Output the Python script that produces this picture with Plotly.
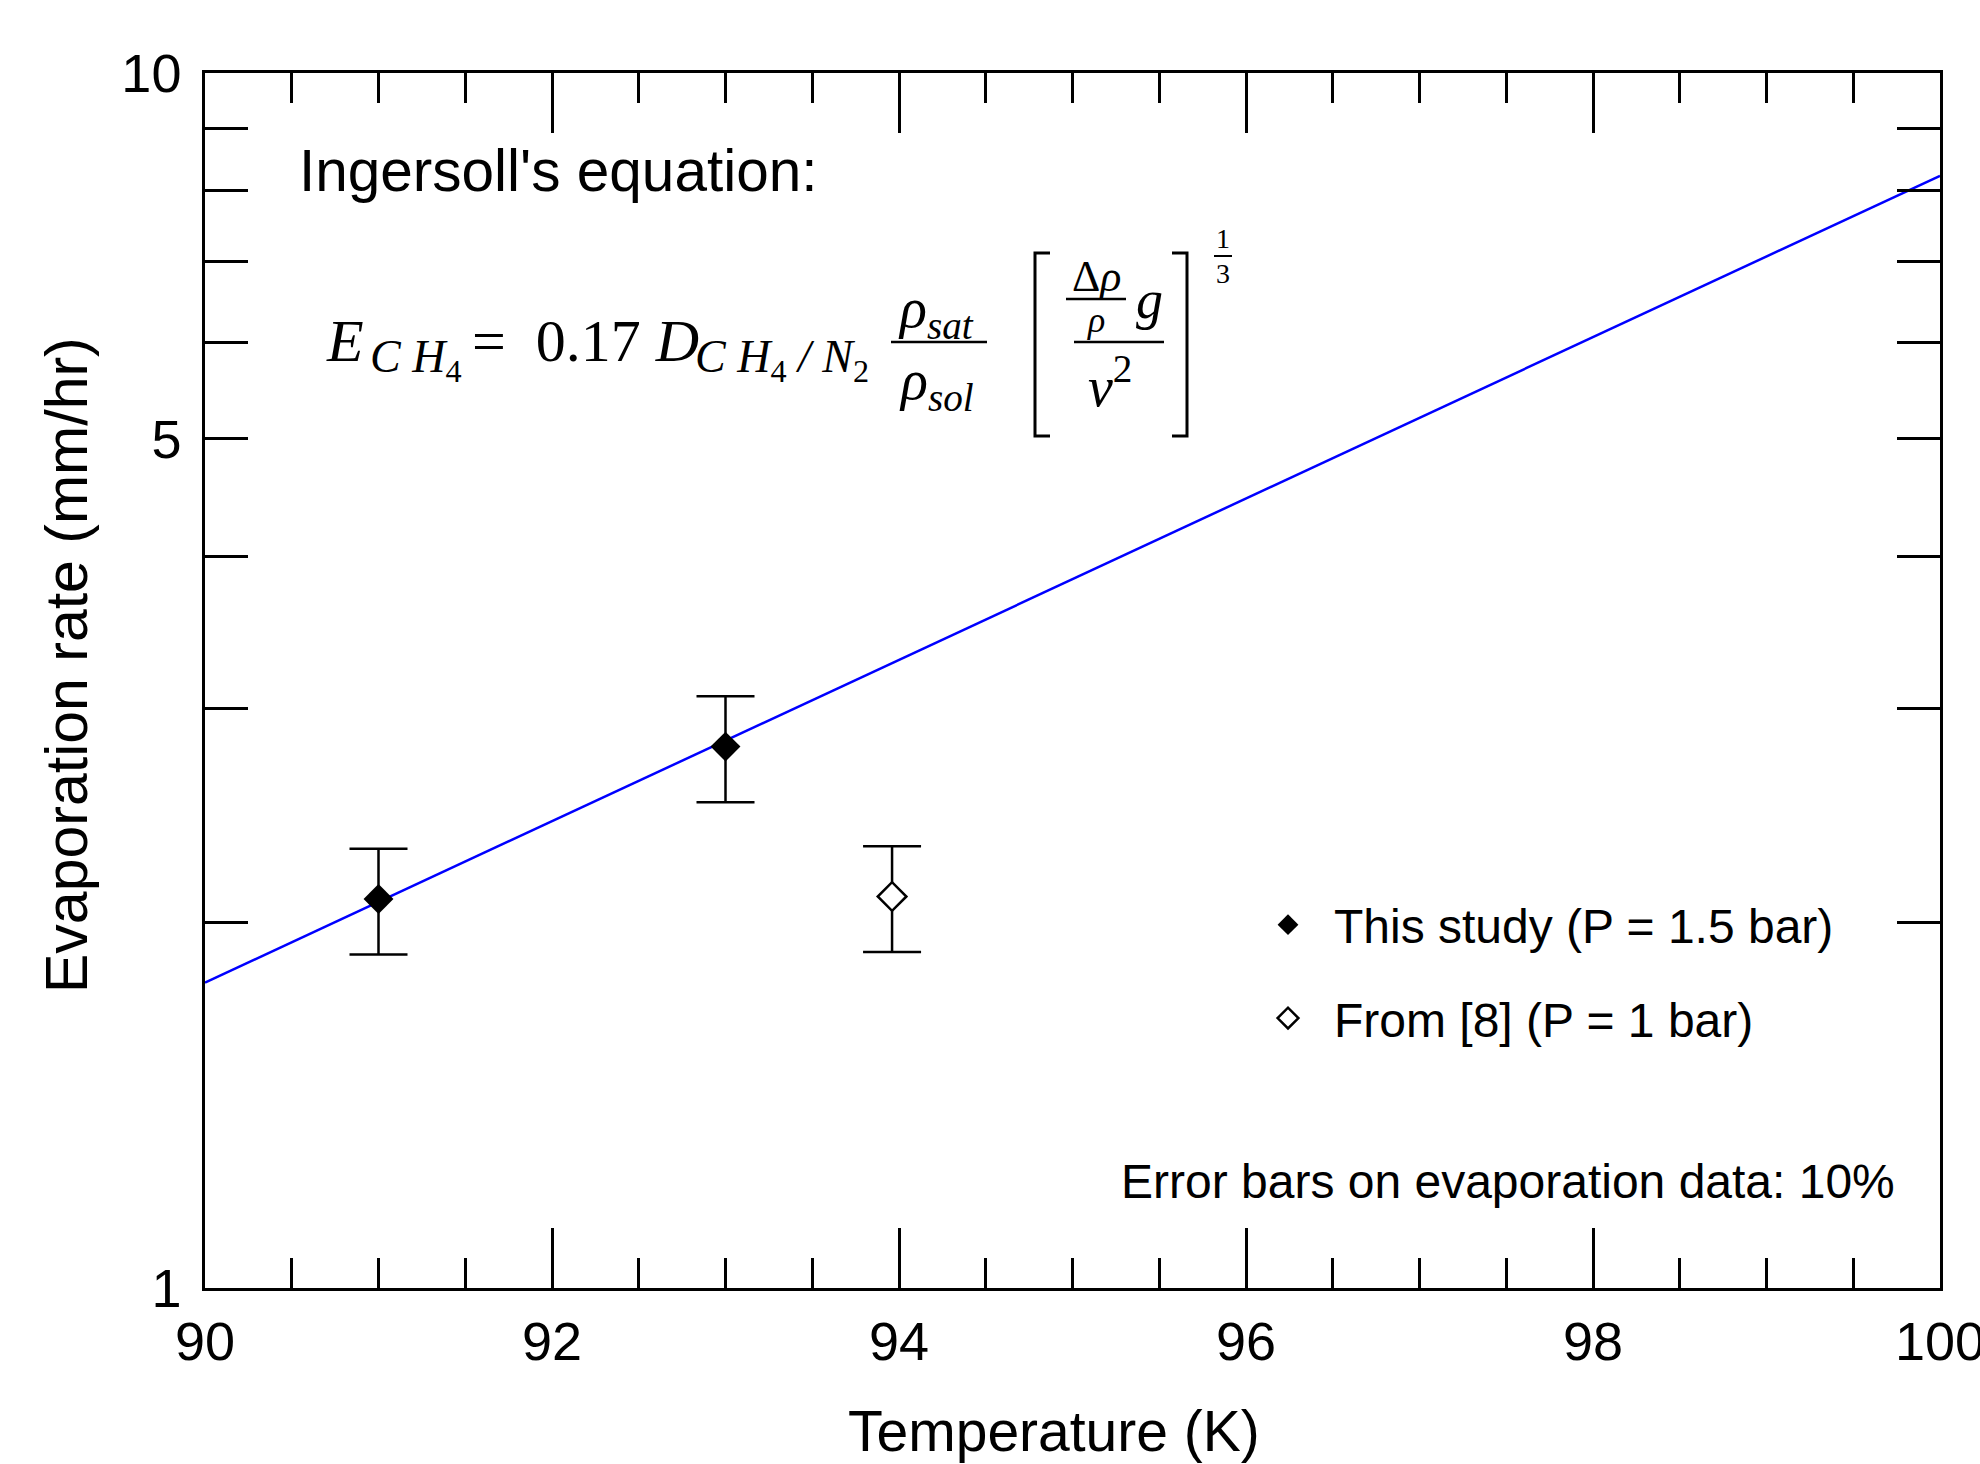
import plotly.graph_objects as go

# ---- data ----
temp_study = [91.0, 93.0]
rate_study = [2.09, 2.79]
temp_ref8 = [93.96]
rate_ref8 = [2.10]
error_pct = 10

temp_model = [90.0, 100.0]
rate_model = [1.784, 8.23]

x_tick_vals = [90, 92, 94, 96, 98, 100]
y_tick_vals = [1, 2, 3, 4, 5, 6, 7, 8, 9, 10]
y_tick_text = ["1", "", "", "", "5", "", "", "", "", "10"]

W, H = 1980, 1464
L, R, T, B = 205, 1940, 73, 1288


def xp(px):
    return (px - L) / (R - L)


def yp(py):
    return (B - py) / (B - T)


SANS = "Liberation Sans, Arial, sans-serif"
SERIF = "Liberation Serif, Times New Roman, serif"

fig = go.Figure()

fig.add_trace(go.Scatter(
    x=temp_model, y=rate_model, mode="lines",
    line=dict(color="#0000ff", width=2.5), showlegend=False, hoverinfo="skip"))

fig.add_trace(go.Scatter(
    x=temp_study, y=rate_study, mode="markers", name="This study (P = 1.5 bar)",
    legendgroup="a",
    marker=dict(symbol="diamond", size=23, color="black", line=dict(color="black", width=0)),
    error_y=dict(type="percent", value=error_pct, color="black", thickness=2.5, width=29)))

fig.add_trace(go.Scatter(
    x=temp_ref8, y=rate_ref8, mode="markers", name="From [8] (P = 1 bar)",
    legendgroup="b",
    marker=dict(symbol="diamond", size=22, color="white", line=dict(color="black", width=2.5)),
    error_y=dict(type="percent", value=error_pct, color="black", thickness=2.5, width=29)))

ann = []


def txt(text, x, y, size, xanchor="center", yanchor="middle", family=SERIF, angle=0):
    ann.append(dict(text=text, x=xp(x), y=yp(y), xref="paper", yref="paper",
                    xanchor=xanchor, yanchor=yanchor, showarrow=False, textangle=angle,
                    font=dict(family=family, size=size, color="black")))


# axis titles
txt("Temperature (K)", 1054, 1431, 57, family=SANS)
txt("Evaporation rate (mm/hr)", 67, 665, 59, family=SANS, angle=-90)

txt("Ingersoll's equation:", 297, 170, 58.5, xanchor="left", family=SANS)
txt("Error bars on evaporation data: 10%", 1897, 1181, 48, xanchor="right", family=SANS)

# equation pieces
txt("<i>E</i>", 324, 341, 60, xanchor="left")
txt("<i>C H</i><sub>4</sub>", 368, 360, 46, xanchor="left")
txt("=  0.17 <i>D</i>", 470, 341, 60, xanchor="left")
txt("<i>C H</i><sub>4</sub><i> / N</i><sub>2</sub>", 693, 360, 46, xanchor="left")
txt("<i>ρ</i><sub><i>sat</i></sub>", 936, 312, 56)
txt("<i>ρ</i><sub><i>sol</i></sub>", 936, 384, 56)
txt("Δ<i>ρ</i>", 1096, 276, 44)
txt("<i>ρ</i>", 1096, 320, 36)
txt("<i>g</i>", 1149, 300, 54)
txt("<i>ν</i><sup>2</sup>", 1110, 382, 56)
txt("1", 1223, 238, 28)
txt("3", 1223, 273, 28)

shapes = []


def hline(x0, x1, y, w=2.5):
    shapes.append(dict(type="line", xref="paper", yref="paper",
                       x0=xp(x0), x1=xp(x1), y0=yp(y), y1=yp(y),
                       line=dict(color="black", width=w)))


def bracket(xa, xb, y0, y1):
    path = f"M {xp(xb)},{yp(y0)} L {xp(xa)},{yp(y0)} L {xp(xa)},{yp(y1)} L {xp(xb)},{yp(y1)}"
    shapes.append(dict(type="path", xref="paper", yref="paper", path=path,
                       line=dict(color="black", width=3)))


hline(891, 987, 342)
hline(1066, 1126, 299, 2.5)
hline(1074, 1164, 342)
hline(1214, 1232, 256, 2)
bracket(1035, 1050, 253, 436)
bracket(1187, 1172, 253, 436)

fig.update_layout(
    width=W, height=H,
    margin=dict(l=L, r=W - R, t=T, b=H - B, autoexpand=False),
    paper_bgcolor="white", plot_bgcolor="white",
    font=dict(family=SANS, size=54, color="black"),
    annotations=ann, shapes=shapes,
    legend=dict(x=xp(1242), y=yp(887), xanchor="left", yanchor="top",
                bgcolor="rgba(0,0,0,0)", font=dict(family=SANS, size=48, color="black"),
                tracegroupgap=28, traceorder="grouped", itemsizing="trace", itemwidth=82),
    xaxis=dict(
        range=[90, 100], tickvals=x_tick_vals, ticks="inside", ticklen=60, tickwidth=2.5,
        tickcolor="black", showline=True, linecolor="black", linewidth=2.5, mirror="ticks",
        showgrid=False, zeroline=False, tickfont=dict(size=54), ticklabelstandoff=4,
        ticklabeloverflow="allow", automargin=False,
        minor=dict(dtick=0.5, tick0=90, ticks="inside", ticklen=30, tickwidth=2.5,
                   tickcolor="black", showgrid=False)),
    yaxis=dict(
        type="log", range=[0, 1], tickvals=y_tick_vals, ticktext=y_tick_text,
        ticks="inside", ticklen=43, tickwidth=2.5, tickcolor="black",
        showline=True, linecolor="black", linewidth=2.5, mirror="ticks",
        showgrid=False, zeroline=False, tickfont=dict(size=54), ticklabelstandoff=10,
        automargin=False),
)

fig.write_html("out.html")
